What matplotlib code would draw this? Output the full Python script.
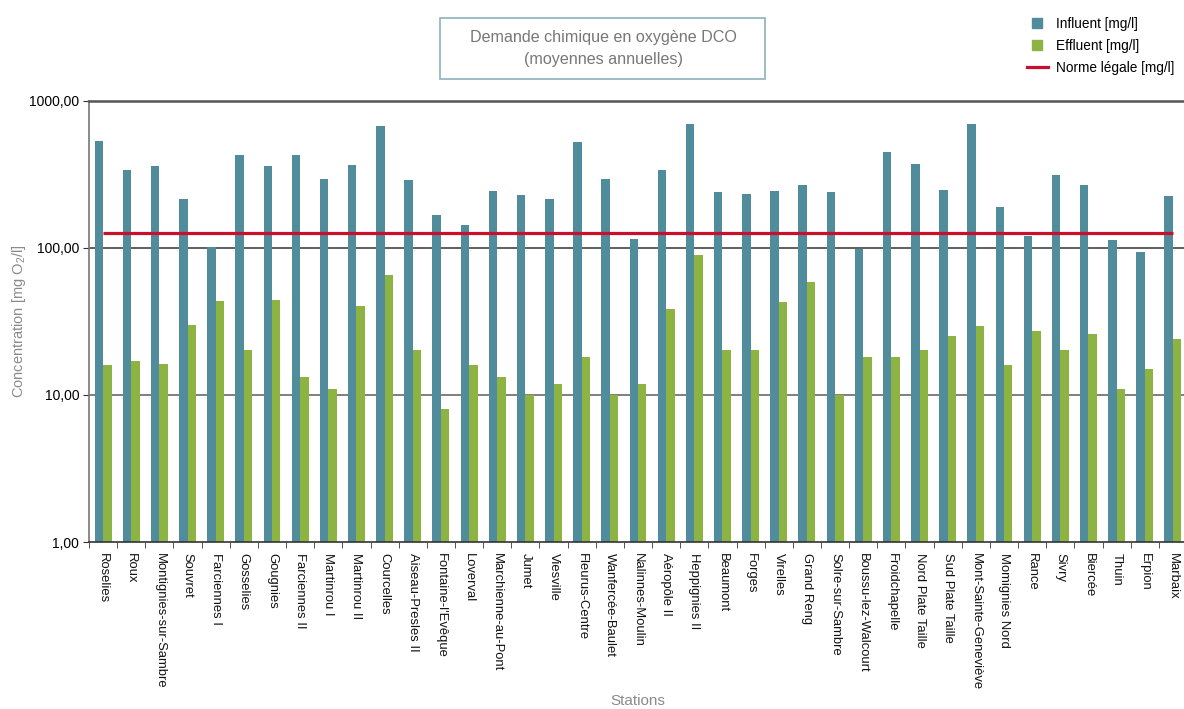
import numpy as np
import matplotlib
matplotlib.use("Agg")
import matplotlib.pyplot as plt
from matplotlib.ticker import FixedLocator, FuncFormatter, NullLocator
from matplotlib.lines import Line2D
from matplotlib.patches import Rectangle

plt.rcParams['font.family'] = ['Liberation Sans', 'DejaVu Sans']

# stations along the x axis
stations = [
    "Roselies", "Roux", "Montignies-sur-Sambre", "Souvret", "Farciennes I",
    "Gosselies", "Gougnies", "Farciennes II", "Martinrou I", "Martinrou II",
    "Courcelles", "Aiseau-Presles II", "Fontaine-l'Evêque", "Loverval",
    "Marchienne-au-Pont", "Jumet", "Viesville", "Fleurus-Centre",
    "Wanfercée-Baulet", "Nalinnes-Moulin", "Aéropôle II", "Heppignies II",
    "Beaumont", "Forges", "Virelles", "Grand Reng", "Solre-sur-Sambre",
    "Boussu-lez-Walcourt", "Froidchapelle", "Nord Plate Taille",
    "Sud Plate Taille", "Mont-Sainte-Geneviève", "Momignies Nord", "Rance",
    "Sivry", "Biercée", "Thuin", "Erpion", "Marbaix",
]

# DCO influent [mg/l]
influent = [530, 337, 359, 214, 101, 426, 359, 426, 292, 364,
            670, 288, 167, 143, 243, 228, 214, 522, 292, 114,
            337, 692, 239, 232, 243, 267, 239, 98, 447, 370,
            247, 692, 189, 120, 312, 267, 113, 93, 225]

# DCO effluent [mg/l]
effluent = [16.0, 17.0, 16.2, 29.9, 43.4, 20.2, 44.2, 13.2, 11.0, 40.2,
            65.0, 20.2, 8.0, 16.0, 13.2, 10.0, 11.9, 18.1, 10.0, 11.9,
            38.4, 89.0, 20.2, 20.2, 42.8, 58.5, 10.0, 18.1, 18.1, 20.2,
            25.1, 29.4, 16.0, 27.2, 20.2, 25.9, 11.0, 15.0, 24.0]

# norme légale [mg/l]
norme = [125] * len(stations)

yticks = [1, 10, 100, 1000]

c_infl = "#508c9b"
c_effl = "#8db342"
c_norm = "#c8102e"
c_text = "#8a8a8a"

W, H = 1184, 709
fig = plt.figure(figsize=(W / 100, H / 100), dpi=100)
ax = fig.add_axes([89 / W, 1 - 542 / H, 1098 / W, (542 - 100.5) / H])

x = np.arange(len(stations))
w = 0.3
ax.bar(x - w / 2, influent, w, color=c_infl, zorder=2)
ax.bar(x + w / 2, effluent, w, color=c_effl, zorder=2)
ax.plot(x, norme, color=c_norm, lw=2.3, zorder=3, solid_capstyle='butt')

ax.set_yscale('log')
ax.set_ylim(1, 1000)
ax.set_xlim(-0.5, len(stations) - 0.5)
ax.yaxis.set_major_locator(FixedLocator(yticks))
ax.yaxis.set_minor_locator(NullLocator())
ax.yaxis.set_major_formatter(FuncFormatter(lambda v, p: f"{v:.2f}".replace(".", ",")))

# grid lines at 10 and 100, top line at 1000
for v, col in [(10, "#6a6a6a"), (100, "#444444")]:
    ax.axhline(v, color=col, lw=1.2, zorder=1)

ax.spines['top'].set_color("#555555")
ax.spines['top'].set_linewidth(1.8)
ax.spines['right'].set_visible(False)
ax.spines['left'].set_color("#777777")
ax.spines['left'].set_linewidth(1.2)
ax.spines['bottom'].set_color("#333333")
ax.spines['bottom'].set_linewidth(1.2)

ax.set_xticks(x)
ax.set_xticklabels(stations, rotation=270, fontsize=9.4, color="#111111",
                   ha='center', va='top')
ax.tick_params(axis='x', length=0, pad=8)
ax.set_xticks(np.arange(len(stations) + 1) - 0.5, minor=True)
ax.tick_params(axis='x', which='minor', length=4, color="#333333")
ax.tick_params(axis='y', length=4, color="#333333", labelsize=10, pad=3)

ax.set_ylabel(r"Concentration [mg O$\mathregular{_2}$/l]", color=c_text, fontsize=10.5)
ax.yaxis.set_label_coords((19 - 89) / 1098, 0.5)
ax.yaxis.label.set_va('center')
ax.set_xlabel("Stations", color=c_text, fontsize=11)
ax.xaxis.set_label_coords(0.5, (542 - 701) / 441.5)
ax.xaxis.label.set_va('center')

# title in a box
fig.patches.append(Rectangle((440 / W, 1 - 79 / H), 325 / W, 61 / H,
                             transform=fig.transFigure, fill=False,
                             edgecolor="#8fb2bb", lw=1.2))
fig.text(603 / W, 1 - 48.5 / H, "Demande chimique en oxygène DCO\n(moyennes annuelles)",
         ha='center', va='center', fontsize=11.6, color="#777777", linespacing=1.65)

handles = [
    Line2D([], [], marker='s', ls='none', color=c_infl, markersize=6.5),
    Line2D([], [], marker='s', ls='none', color=c_effl, markersize=6.5),
    Line2D([], [], color=c_norm, lw=2.3),
]
fig.legend(handles, ["Influent [mg/l]", "Effluent [mg/l]", "Norme légale [mg/l]"],
           loc='upper left', bbox_to_anchor=(1015 / W, 1 - 5 / H),
           frameon=False, fontsize=9.8, handlelength=1.5, handletextpad=0.6,
           labelspacing=0.58)

fig.savefig("out.png", dpi=100)
